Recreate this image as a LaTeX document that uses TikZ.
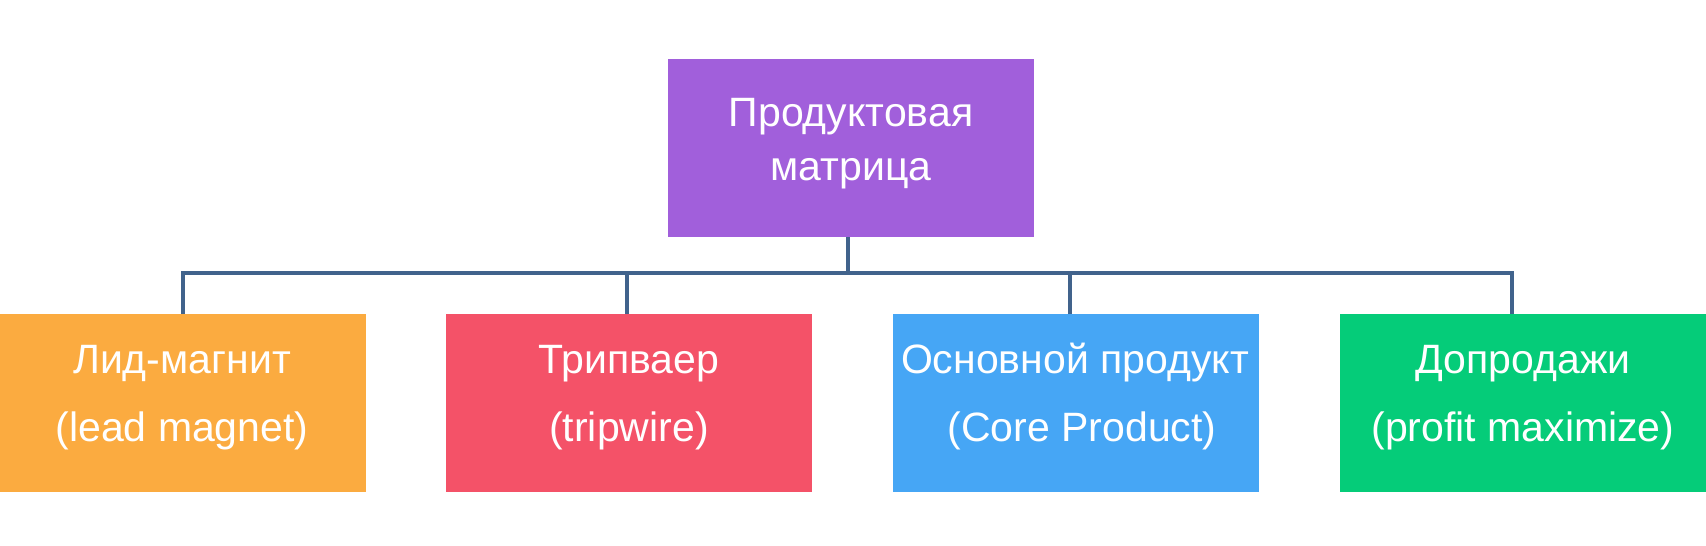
\documentclass[tikz,border=0pt]{standalone}
\usepackage{fontspec}
\setmainfont{Liberation Sans}
\definecolor{cPurple}{HTML}{A15FDB}
\definecolor{cOrange}{HTML}{FBAB40}
\definecolor{cRed}{HTML}{F45268}
\definecolor{cBlue}{HTML}{46A6F5}
\definecolor{cGreen}{HTML}{05CC79}
\definecolor{cLine}{HTML}{41638C}
\begin{document}
\begin{tikzpicture}[x=1pt,y=-1pt,
  boxnode/.style={draw=none, inner sep=0pt, outer sep=0pt, anchor=north west, minimum width=366pt, minimum height=178pt},
  txt/.style={text=white, inner sep=0pt, anchor=base, font=\fontsize{41}{41}\selectfont},
  conn/.style={draw=cLine, line width=3.3pt}]
\useasboundingbox (0,0) rectangle (1706,546);
\node[boxnode, fill=cPurple] (top) at (668,59) {};
\node[boxnode, fill=cOrange] (o) at (0,314) {};
\node[boxnode, fill=cRed] (r) at (446,314) {};
\node[boxnode, fill=cBlue] (b) at (893,314) {};
\node[boxnode, fill=cGreen] (g) at (1340,314) {};
\coordinate (bL) at (183,273);
\coordinate (bR) at (1512,273);
\coordinate (sT) at (848,273);
\coordinate (sR) at (627,273);
\coordinate (sB) at (1070,273);
\draw[conn] (sT |- top.south) -- (sT);
\draw[conn] (bL |- o.north) -- (bL) -- (bR) -- (bR |- g.north);
\draw[conn] (sR |- r.north) -- (sR);
\draw[conn] (sB |- b.north) -- (sB);
\node[txt] (t1) at (851,126) {Продуктовая};
\node[txt] (t2) at (851,180) {матрица};
\node[txt] (o1) at (182,373) {Лид-магнит};
\node[txt] (o2) at (182,441) {(lead magnet)};
\node[txt] (r1) at (629,373) {Трипваер};
\node[txt] (r2) at (629,441) {(tripwire)};
\node[txt] (b1) at (1075,373) {Основной продукт};
\node[txt] (b2) at (1082,441) {(Core Product)};
\node[txt] (g1) at (1523,373) {Допродажи};
\node[txt] (g2) at (1523,441) {(profit maximize)};
\end{tikzpicture}
\end{document}
